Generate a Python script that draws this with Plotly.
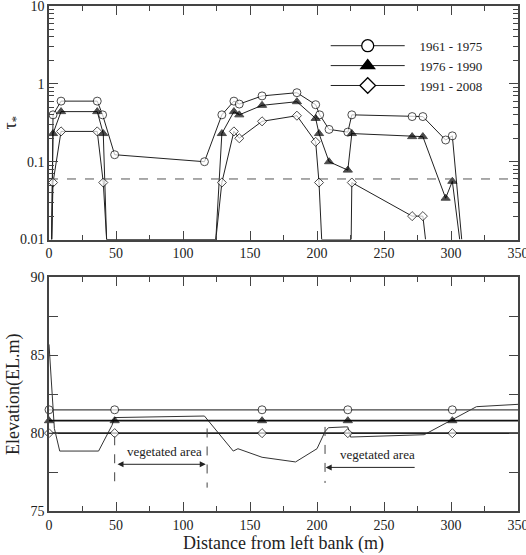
import plotly.graph_objects as go

# ---------------- data ----------------
BELOW = 0.01  # values at/below lower limit (drawn on axis)

c_x = [2, 3, 9, 36, 40, 49, 116, 129, 138, 142, 159, 185, 199, 202, 209, 223, 226, 271, 279, 296, 301, 308]
c_y = [BELOW, 0.4, 0.6, 0.6, 0.4, 0.123, 0.1, 0.4, 0.6, 0.55, 0.7, 0.77, 0.54, 0.4, 0.26, 0.24, 0.4, 0.38, 0.38, 0.19, 0.215, BELOW]

t_x = [2, 3, 9, 36, 40.5, 43, 124.5, 129, 138, 142, 159, 185, 199, 201.5, 209, 223, 226, 271, 279, 296, 301, 306.5]
t_y = [BELOW, 0.23, 0.44, 0.44, 0.23, BELOW, BELOW, 0.23, 0.44, 0.4, 0.53, 0.59, 0.36, 0.23, 0.1, 0.078, 0.23, 0.21, 0.21, 0.034, 0.056, BELOW]

d_x = [2, 3, 9, 36, 40.5, 43, 124.5, 129, 138, 142, 159, 185, 199, 201.5, 203.5, 225.5, 226, 271, 279, 281]
d_y = [BELOW, 0.054, 0.245, 0.245, 0.054, BELOW, BELOW, 0.054, 0.245, 0.2, 0.33, 0.39, 0.18, 0.054, BELOW, BELOW, 0.054, 0.02, 0.02, BELOW]

threshold = 0.06
x_span = [0, 350]

series_names = ["1961 - 1975", "1976 - 1990", "1991 - 2008"]

# bottom panel
level_x = [0, 49, 159, 223, 301, 350]
level_marked = [True, True, True, True, True, False]
levels = [81.5, 80.8, 80.0]

bed_x = [0, 4, 8, 37, 47, 49, 116, 137.5, 141, 159, 184, 200, 206, 208.5, 221, 223, 225, 280, 319, 350]
bed_y = [85.7, 80.3, 78.85, 78.85, 80.5, 81.0, 81.1, 78.85, 79.0, 78.45, 78.15, 79.0, 80.1, 80.35, 80.4, 80.4, 79.75, 79.9, 81.7, 81.85]

veg_left = [49, 118]
veg_right = [206, 274]
veg_label = "vegetated area"

# ---------------- figure ----------------
FONT = '"Liberation Serif", "Times New Roman", Times, serif'
AX = "#444444"
TXT = "#222222"

fig = go.Figure()

def sizes(ys, s):
    return [0 if v <= BELOW else s for v in ys]

styles = [
    dict(symbol="circle", color="white", line=dict(color="black", width=1), size=8),
    dict(symbol="triangle-up", color="black", line=dict(color="black", width=1), size=8),
    dict(symbol="diamond", color="white", line=dict(color="black", width=1), size=7),
]
for name, xs, ys, st in zip(series_names, [c_x, t_x, d_x], [c_y, t_y, d_y], styles):
    fig.add_trace(go.Scatter(
        x=xs, y=ys, name=name, mode="lines+markers", showlegend=False,
        line=dict(color="#222222", width=1),
        marker=dict(symbol=st["symbol"], color=st["color"], line=st["line"],
                    size=sizes(ys, st["size"])),
        xaxis="x", yaxis="y", cliponaxis=True))
    # legend entry
    fig.add_trace(go.Scatter(
        x=[None], y=[None], name="\u00a0\u00a0\u00a0" + name, mode="lines+markers",
        line=dict(color="#222222", width=1),
        marker=dict(symbol=st["symbol"], color=st["color"],
                    line=dict(color="black", width=1.3), size=12),
        xaxis="x", yaxis="y"))

fig.add_trace(go.Scatter(
    x=x_span, y=[threshold, threshold], mode="lines", showlegend=False,
    line=dict(color="#555555", width=1, dash="dash"), xaxis="x", yaxis="y"))

# bottom panel
fig.add_trace(go.Scatter(
    x=bed_x, y=bed_y, mode="lines", showlegend=False,
    line=dict(color="#333333", width=1), xaxis="x2", yaxis="y2"))

lw = [1.2, 1.8, 1.8]
lc = ["#444444", "#111111", "#222222"]
for lev, st, w, col in zip(levels, styles, lw, lc):
    fig.add_trace(go.Scatter(
        x=level_x, y=[lev] * len(level_x), mode="lines+markers", showlegend=False,
        line=dict(color=col, width=w),
        marker=dict(symbol=st["symbol"], color=st["color"], line=st["line"],
                    size=[st["size"] if m else 0 for m in level_marked]),
        xaxis="x2", yaxis="y2", cliponaxis=False))

# vegetated area markers
shapes = []
for xv, y0, y1 in [(veg_left[0], 79.8, 76.6), (veg_left[1], 80.3, 76.5), (veg_right[0], 80.4, 76.8)]:
    shapes.append(dict(type="line", xref="x2", yref="y2", x0=xv, x1=xv, y0=y0, y1=y1,
                       line=dict(color="#444444", width=1, dash="dash")))

annotations = [
    dict(x=veg_left[1] - 1, y=78.0, ax=veg_left[0] + 1, ay=78.0, xref="x2", yref="y2",
         axref="x2", ayref="y2", showarrow=True, arrowhead=2, arrowside="end+start",
         arrowsize=1.2, arrowwidth=1, arrowcolor="#222222", text=""),
    dict(x=(veg_left[0] + veg_left[1]) / 2 + 3, y=78.8, xref="x2", yref="y2", text=veg_label,
         showarrow=False, font=dict(family=FONT, size=13, color=TXT)),
    dict(x=veg_right[0] + 0.5, y=77.8, ax=veg_right[1], ay=77.8, xref="x2", yref="y2",
         axref="x2", ayref="y2", showarrow=True, arrowhead=2, arrowsize=1.2,
         arrowwidth=1, arrowcolor="#222222", text=""),
    dict(x=(veg_right[0] + veg_right[1]) / 2 + 5, y=78.6, xref="x2", yref="y2", text=veg_label,
         showarrow=False, font=dict(family=FONT, size=13, color=TXT)),
]

xcommon = dict(range=[0, 350], tickmode="linear", tick0=0, dtick=50, ticks="inside",
               ticklen=9, tickcolor=AX, linecolor=AX, linewidth=1.5, mirror="allticks",
               showline=True, showgrid=False, zeroline=False, automargin=False,
               ticklabeloverflow="allow",
               minor=dict(ticks="inside", ticklen=5, dtick=25, tickcolor=AX, showgrid=False),
               tickfont=dict(family=FONT, size=14, color=TXT))

fig.update_layout(
    width=526, height=555,
    margin=dict(l=49, r=8, t=6, b=44),
    paper_bgcolor="white", plot_bgcolor="white",
    font=dict(family=FONT, color=TXT),
    shapes=shapes, annotations=annotations,
    xaxis=dict(**xcommon, domain=[0, 1], anchor="y"),
    yaxis=dict(type="log", range=[-2, 1], domain=[0.5375, 1], anchor="x", automargin=False,
               ticklabeloverflow="allow",
               tickvals=[0.01, 0.1, 1, 10], ticktext=["0.01", "0.1", "1", "10"],
               ticks="inside", ticklen=9, tickcolor=AX, linecolor=AX, linewidth=1.5,
               mirror="allticks", showline=True, showgrid=False, zeroline=False,
               minor=dict(ticks="inside", ticklen=5, dtick="D1", tickcolor=AX, showgrid=False),
               tickfont=dict(family=FONT, size=14, color=TXT),
               title=dict(text="τ<sub>*</sub>", font=dict(family=FONT, size=18), standoff=10)),
    xaxis2=dict(**xcommon, domain=[0, 1], anchor="y2",
                title=dict(text="Distance from left bank (m)", font=dict(family=FONT, size=18),
                           standoff=2)),
    yaxis2=dict(range=[75, 90], domain=[0, 0.4625], anchor="x2", automargin=False,
                ticklabeloverflow="allow",
                tickmode="linear", tick0=75, dtick=5, ticks="inside", ticklen=9,
                tickcolor=AX, linecolor=AX, linewidth=1.5, mirror="allticks", showline=True,
                showgrid=False, zeroline=False,
                minor=dict(ticks="inside", ticklen=9, dtick=2.5, tickcolor=AX, showgrid=False),
                tickfont=dict(family=FONT, size=14, color=TXT),
                title=dict(text="Elevation(EL.m)", font=dict(family=FONT, size=18), standoff=6)),
    legend=dict(x=0.59, y=0.951, xanchor="left", yanchor="top", bgcolor="rgba(0,0,0,0)",
                font=dict(family=FONT, size=13, color=TXT), itemwidth=74,
                itemsizing="trace", tracegroupgap=0),
    showlegend=True,
)

fig.write_html("out.html")
